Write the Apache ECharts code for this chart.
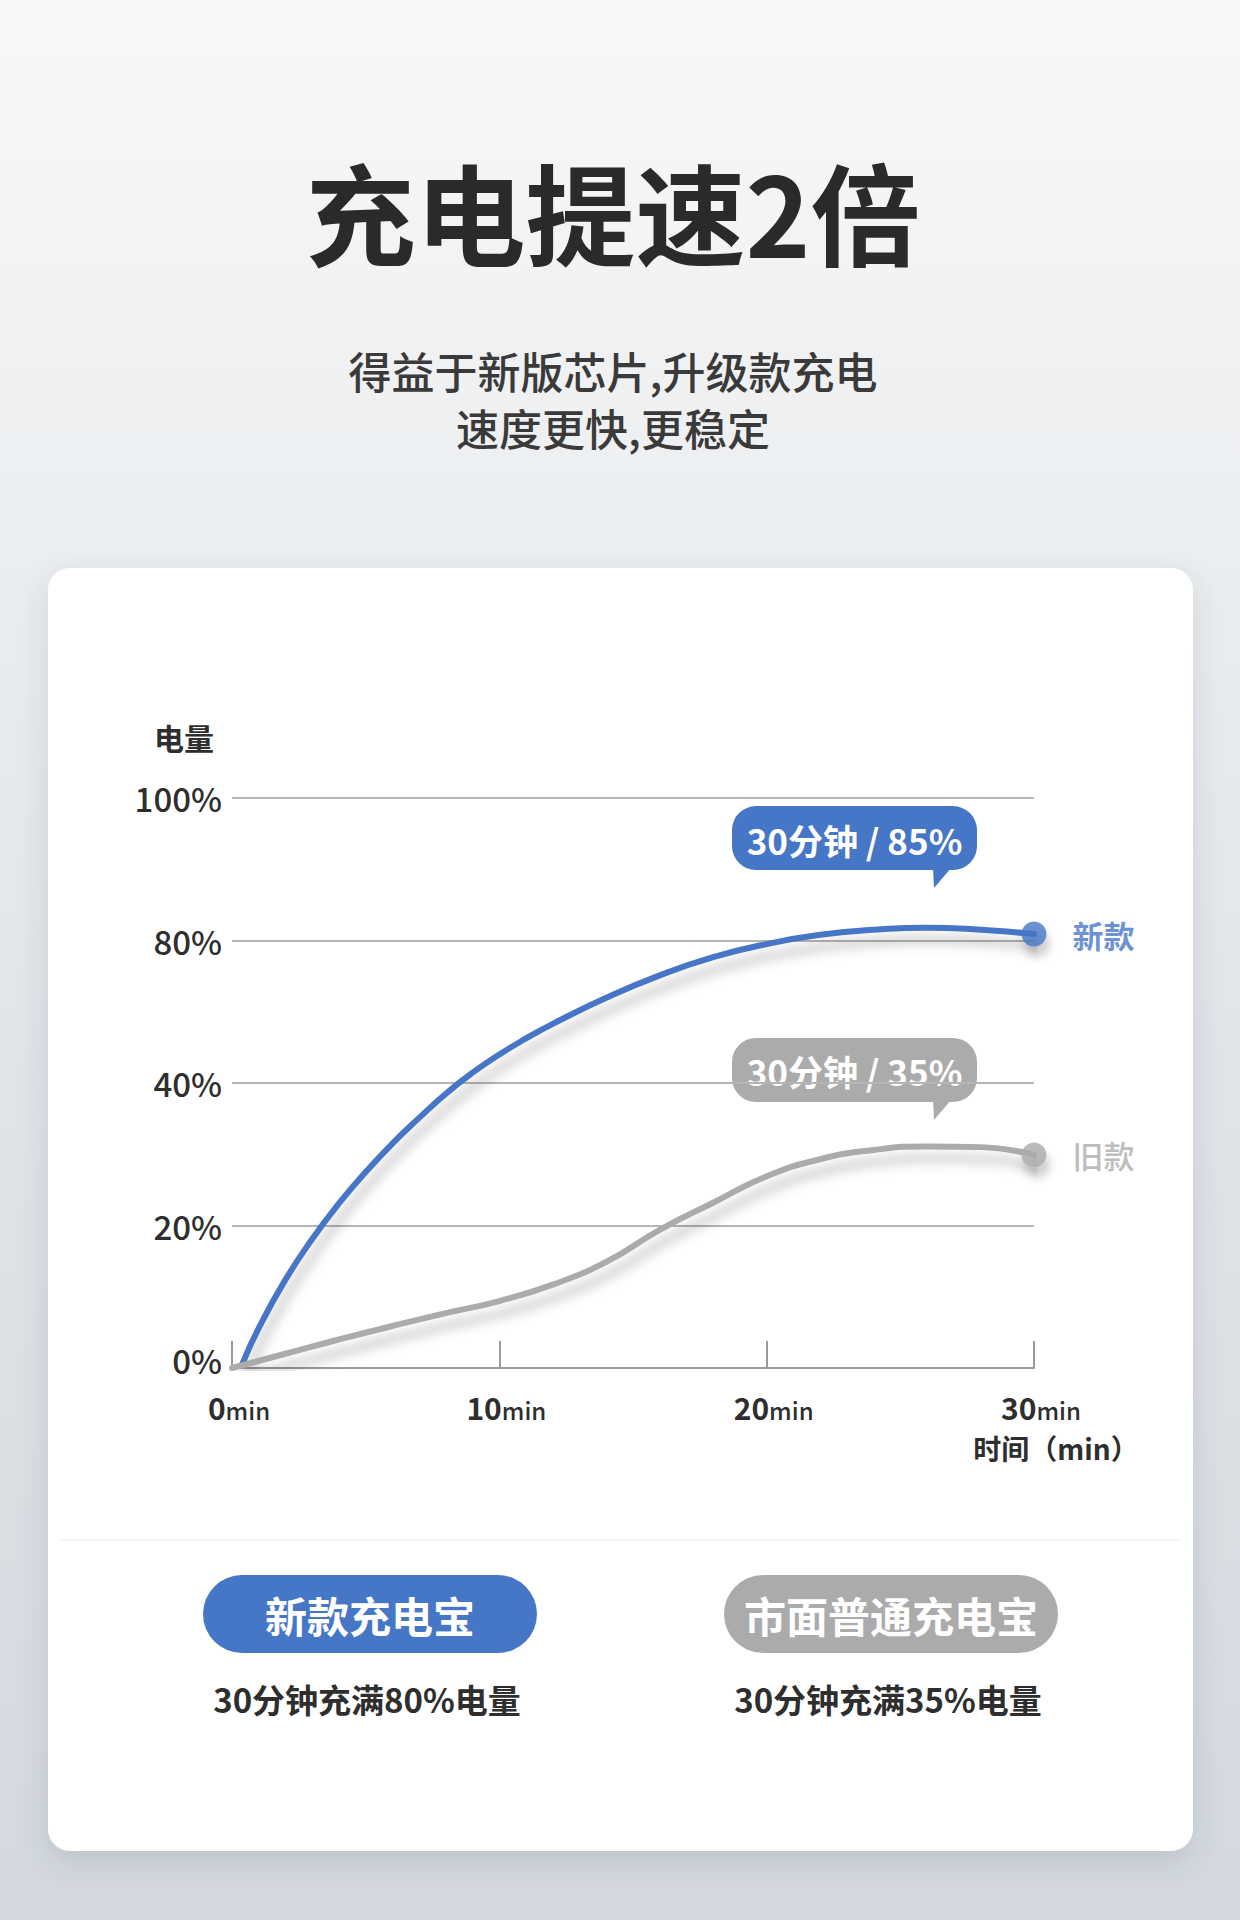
<!DOCTYPE html>
<html><head><meta charset="utf-8">
<script src="https://cdn.jsdelivr.net/npm/echarts@6/dist/echarts.min.js"></script>
<style>
html,body{margin:0;padding:0;}
body{width:1240px;height:1920px;background:linear-gradient(180deg,#f7f8f9 0%,#eef0f2 22%,#e1e5e9 55%,#d4d9df 100%);}
#chart{width:1240px;height:1920px;}
</style></head><body><div id="chart"></div>
<script>
// ---- data ----
const titleText = '充电提速2倍';
const subtitleLines = ['得益于新版芯片,升级款充电', '速度更快,更稳定'];
const yTickValues = [0, 20, 40, 80, 100];
const yTickLabels = ['0%', '20%', '40%', '80%', '100%'];
const xTickValues = [0, 10, 20, 30];
const xUnit = 'min';
const yAxisName = '电量';
const xAxisName = '时间（min）';
const seriesNames = ['新款', '旧款'];
const newMinutes = [0.4, 1, 2, 3, 4, 5, 6, 7, 8, 9, 10, 11, 12, 14, 16, 18, 20, 22, 24, 26, 28, 30];
const newPercent = [0.7, 5.6, 12.4, 18.1, 23.1, 27.5, 31.5, 35.1, 38.5, 42.9, 48.0, 52.5, 56.6, 63.9, 70.2, 75.3, 79.0, 80.8, 81.5, 81.8, 81.5, 80.9];
const oldMinutes = [0, 2, 4, 6, 8, 10, 12, 14, 16, 18, 20, 22, 24, 26, 28, 30];
const oldPercent = [0, 2.0, 4.0, 5.9, 7.7, 9.4, 11.7, 14.9, 19.4, 23.2, 26.9, 29.3, 30.6, 31.1, 31.0, 29.9];
const calloutTexts = ['30分钟 / 85%', '30分钟 / 35%'];
const badgeTexts = ['新款充电宝', '市面普通充电宝'];
const captionTexts = ['30分钟充满80%电量', '30分钟充满35%电量'];

// ---- styles ----
const FONT = '"Noto Sans CJK SC", "Noto Sans", sans-serif';
const BLUE = '#4676c6';
const GRAY = '#ababab';
const DARK = '#2e2e2e';

// percent -> position on the tick-indexed axis (ticks are evenly spaced)
function toAxis(p) {
  for (let i = 0; i < yTickValues.length - 1; i++) {
    if (p <= yTickValues[i + 1]) return i + (p - yTickValues[i]) / (yTickValues[i + 1] - yTickValues[i]);
  }
  return yTickValues.length - 1;
}
const newData = newMinutes.map((m, i) => [m, toAxis(newPercent[i])]);
const oldData = oldMinutes.map((m, i) => [m, toAxis(oldPercent[i])]);
const ends = [newData[newData.length - 1], oldData[oldData.length - 1]];

const chart = echarts.init(document.getElementById('chart'), null, { renderer: 'svg', width: 1240, height: 1920 });

function lineSeries(name, data, color) {
  return {
    type: 'line', name, data, smooth: 0.5, symbol: 'none', z: 3,
    lineStyle: { width: 6, color, cap: 'round', shadowColor: 'rgba(0,0,0,0.26)', shadowBlur: 12, shadowOffsetX: 4, shadowOffsetY: 12 }
  };
}

const staticGraphics = [
  { type: 'rect', z: -10, shape: { x: 48, y: 568, width: 1145, height: 1283, r: 22 },
    style: { fill: '#ffffff', shadowColor: 'rgba(60,70,85,0.16)', shadowBlur: 30, shadowOffsetY: 12 } },
  { type: 'rect', z: -9, shape: { x: 60, y: 1539, width: 1121, height: 2 }, style: { fill: '#f2f3f5' } },
  { type: 'text', z: 10, x: 613, y: 210, style: { text: titleText, fill: '#2a2a2a', fontSize: 110, fontWeight: 'bold', fontFamily: FONT, align: 'center', verticalAlign: 'middle' } },
  ...subtitleLines.map((t, i) => ({ type: 'text', z: 10, x: 613, y: 370 + i * 57,
    style: { text: t, fill: '#3a3a3a', fontSize: 43, fontWeight: 500, fontFamily: FONT, align: 'center', verticalAlign: 'middle' } })),
  ...badgeTexts.map((t, i) => {
    const cx = i === 0 ? 370 : 891;
    return { type: 'group', z: 10, children: [
      { type: 'rect', shape: { x: cx - 167, y: 1575, width: 334, height: 78, r: 39 }, style: { fill: i === 0 ? BLUE : GRAY } },
      { type: 'text', x: cx, y: 1614, style: { text: t, fill: '#ffffff', fontSize: 42, fontWeight: 'bold', fontFamily: FONT, align: 'center', verticalAlign: 'middle' } },
      { type: 'text', x: cx - 3, y: 1699, style: { text: captionTexts[i], fill: DARK, fontSize: 33, fontWeight: 'bold', fontFamily: FONT, align: 'center', verticalAlign: 'middle' } }
    ] };
  })
];

const option = {
  backgroundColor: 'transparent',
  animation: false,
  grid: { left: 232, right: 206, top: 798, bottom: 552, outerBoundsMode: 'none', containLabel: false },
  xAxis: {
    type: 'value', min: xTickValues[0], max: xTickValues[xTickValues.length - 1], interval: xTickValues[1] - xTickValues[0],
    axisLine: { show: true, lineStyle: { color: '#9a9a9a', width: 2 } },
    axisTick: { show: true, inside: true, length: 27, lineStyle: { color: '#9a9a9a', width: 2 } },
    splitLine: { show: false },
    axisLabel: {
      margin: 20,
      formatter: v => '{n|' + v + '}{u|' + xUnit + '}',
      rich: {
        n: { fontSize: 30, fontWeight: 'bold', color: DARK, fontFamily: FONT, lineHeight: 34, verticalAlign: 'bottom', padding: [0, 0, 0, 14] },
        u: { fontSize: 24, fontWeight: 500, color: DARK, fontFamily: FONT, lineHeight: 34, verticalAlign: 'bottom', padding: [0, 0, 1, 0] }
      }
    }
  },
  yAxis: {
    type: 'value', min: 0, max: yTickValues.length - 1, interval: 1,
    name: yAxisName, nameLocation: 'end', nameGap: 46,
    nameTextStyle: { fontSize: 30, fontWeight: 'bold', color: DARK, fontFamily: FONT, align: 'center', padding: [0, 96, 0, 0] },
    axisLine: { show: false }, axisTick: { show: false },
    splitLine: { show: true, lineStyle: { color: '#b5b5b5', width: 2 } },
    axisLabel: {
      margin: 10, color: DARK,
      formatter: v => (v === 0 ? '{z|' : '{t|') + yTickLabels[v] + '}',
      rich: {
        t: { fontSize: 33, fontWeight: 500, color: DARK, fontFamily: FONT },
        z: { fontSize: 33, fontWeight: 500, color: DARK, fontFamily: FONT, padding: [0, 0, 16, 0] }
      }
    }
  },
  series: [
    lineSeries(seriesNames[0], newData, BLUE),
    lineSeries(seriesNames[1], oldData, GRAY),
    {
      type: 'scatter', z: 4, symbol: 'circle', symbolSize: 25,
      data: ends.map((p, i) => ({
        value: p, name: seriesNames[i],
        itemStyle: { color: i === 0 ? BLUE : GRAY, shadowColor: 'rgba(0,0,0,0.25)', shadowBlur: 10, shadowOffsetX: 3, shadowOffsetY: 10 },
        label: { show: true, position: 'right', distance: 26, formatter: '{b}', fontSize: 31,
          fontWeight: i === 0 ? 'bold' : 500, color: i === 0 ? BLUE : GRAY, fontFamily: FONT }
      }))
    }
  ],
  graphic: staticGraphics
};
chart.setOption(option);

// callouts anchored to the series end points, axis name anchored to axis end
const tipOffsets = [[-100, -46], [-100, -35]];
const callouts = ends.map((p, i) => {
  const [ex, ey] = chart.convertToPixel({ gridIndex: 0 }, p);
  const tipX = ex + tipOffsets[i][0], tipY = ey + tipOffsets[i][1];
  const bx = tipX - 202, by = tipY - 82, bw = 245, bh = 64;
  const fill = i === 0 ? BLUE : GRAY;
  return { type: 'group', z: 20, children: [
    { type: 'rect', shape: { x: bx, y: by, width: bw, height: bh, r: 24 }, style: { fill } },
    { type: 'polygon', shape: { points: [[tipX - 1, by + bh - 2], [tipX + 17, by + bh - 2], [tipX, tipY]] }, style: { fill } },
    { type: 'text', x: bx + bw / 2, y: by + bh / 2 + 1, style: { text: calloutTexts[i], fill: '#ffffff', fontSize: 35, fontWeight: 'bold', fontFamily: FONT, align: 'center', verticalAlign: 'middle' } }
  ] };
});
const axEnd = chart.convertToPixel({ gridIndex: 0 }, [xTickValues[xTickValues.length - 1], 0]);
const xNameEl = { type: 'text', z: 10, x: axEnd[0] + 22, y: axEnd[1] + 80,
  style: { text: xAxisName, fill: DARK, fontSize: 28, fontWeight: 'bold', fontFamily: FONT, align: 'center', verticalAlign: 'middle' } };
option.graphic = staticGraphics.concat(callouts, [xNameEl]);
chart.setOption(option, true);
</script></body></html>
